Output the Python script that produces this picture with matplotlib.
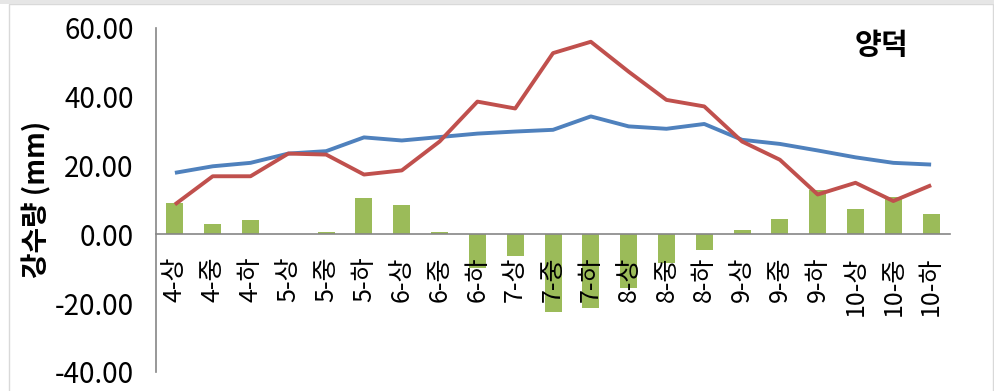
import matplotlib
matplotlib.use("Agg")
import matplotlib.pyplot as plt
import matplotlib.patches as mpatches
import numpy as np

plt.rcParams['font.family'] = ['Noto Sans CJK KR', 'DejaVu Sans']

# Data
periods = ["4-상", "4-중", "4-하", "5-상", "5-중", "5-하", "6-상", "6-중", "6-하",
           "7-상", "7-중", "7-하", "8-상", "8-중", "8-하", "9-상", "9-중", "9-하",
           "10-상", "10-중", "10-하"]
normal = [17.9, 19.8, 20.8, 23.5, 24.2, 28.2, 27.3, 28.3, 29.3, 29.9, 30.4,
          34.3, 31.4, 30.7, 32.1, 27.5, 26.3, 24.4, 22.4, 20.8, 20.3]
observed = [8.7, 16.9, 16.9, 23.5, 23.2, 17.4, 18.6, 27.0, 38.6, 36.6, 52.7,
            56.0, 47.3, 39.1, 37.2, 27.0, 21.7, 11.6, 15.0, 9.7, 14.3]
diff = [9.2, 3.1, 4.2, 0.0, 0.8, 10.5, 8.6, 0.7, -9.7, -6.3, -22.7,
        -21.5, -15.7, -8.2, -4.6, 1.2, 4.5, 12.8, 7.5, 10.8, 6.0]
yticks = [-40, -20, 0, 20, 40, 60]

fig = plt.figure(figsize=(9.95, 3.91), dpi=100)
ax = fig.add_axes([0.1568, 0.0486, 0.798, 0.8798])

# outer chart border
fig.patches.append(mpatches.Rectangle((0.009, -0.01), 0.989, 1.0, transform=fig.transFigure,
                                      fill=False, edgecolor="#d9d9d9", linewidth=1.0))
fig.patches.append(mpatches.Rectangle((0.0, 0.99), 1.0, 0.01, transform=fig.transFigure,
                                      facecolor="#e6e6e6", edgecolor="none"))

x = np.arange(len(periods))
ax.bar(x, diff, width=0.45, color="#9BBB59", zorder=2)
ax.plot(x, normal, color="#4F81BD", linewidth=2.8, zorder=3, solid_capstyle="butt")
ax.plot(x, observed, color="#C0504D", linewidth=2.8, zorder=4, solid_capstyle="butt")
ax.set_axisbelow(False)  # labels drawn over the bars

ax.set_xlim(-0.5, len(periods) - 0.5)
ax.set_ylim(-40, 60)
ax.set_yticks(yticks)
ax.set_yticklabels([f"{v:.2f}" for v in yticks])
ax.set_xticks(x)
ax.set_xticklabels(periods)
ax.tick_params(axis="both", length=0)
ax.tick_params(axis="y", pad=16, labelsize=20)
ax.tick_params(axis="x", pad=16, labelsize=18, labelrotation=90)

for s in ["top", "right"]:
    ax.spines[s].set_visible(False)
ax.spines["bottom"].set_position(("data", 0))
ax.spines["bottom"].set_color("#868686")
ax.spines["left"].set_color("#868686")
ax.spines["bottom"].set_linewidth(1.2)
ax.spines["left"].set_linewidth(1.2)

fig.text(0.037, 0.49, "강수량 (mm)", rotation=90, ha="center", va="center",
         fontsize=20, fontweight="bold")
fig.text(0.886, 0.885, "양덕", ha="center", va="center", fontsize=21, fontweight="bold")

plt.savefig("out.png", dpi=100)
